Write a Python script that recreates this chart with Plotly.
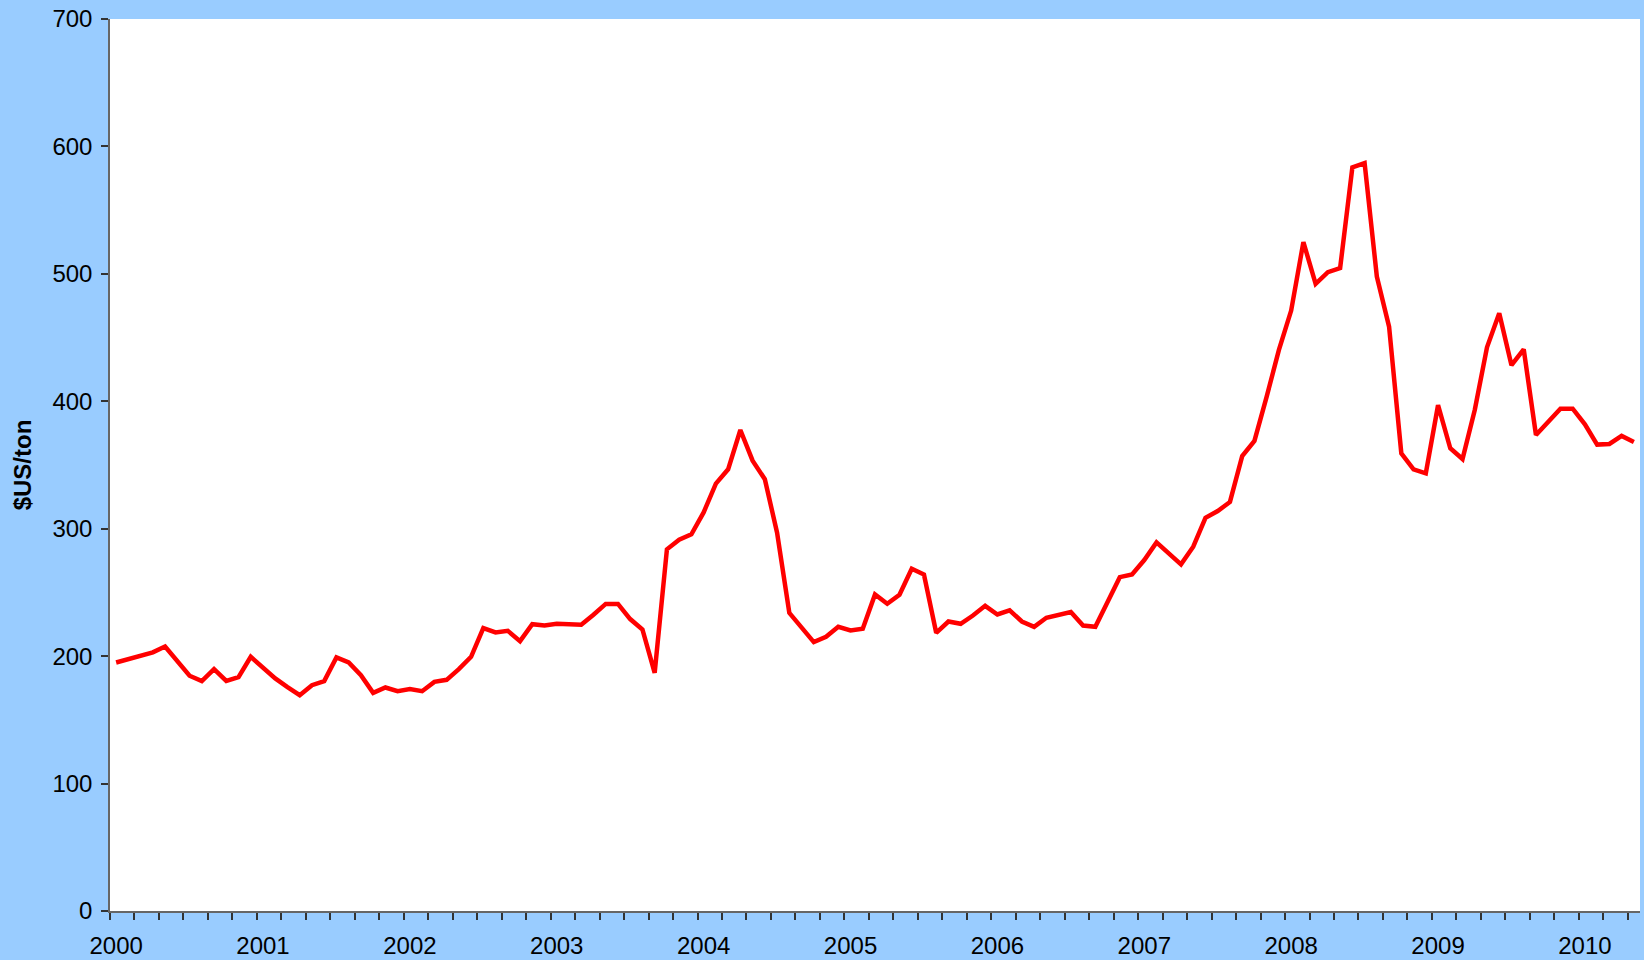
import plotly.graph_objects as go
import pandas as pd

# Monthly categories Jan 2000 - May 2010
months = pd.period_range("2000-01", periods=125, freq="M")

# Price in $US/ton
prices = [
    195.0, 197.6, 199.5, 203.0, 207.6, 196.6, 184.6, 180.4, 189.8, 180.6, 183.5, 199.5,   # 2000
    191.0, 182.5, 175.7, 169.4, 177.2, 180.4, 199.0, 195.0, 185.0, 171.2, 175.4, 172.5,   # 2001
    174.1, 172.5, 179.8, 181.4, 189.8, 199.5, 222.0, 218.6, 219.9, 211.8, 225.1, 224.1,   # 2002
    225.4, 224.6, 224.6, 232.5, 241.0, 241.0, 229.1, 220.9, 186.9, 283.8, 291.4, 295.6,   # 2003
    312.8, 335.4, 346.6, 377.5, 353.4, 338.8, 296.9, 234.0, 222.3, 211.0, 215.2, 223.0,   # 2004
    220.2, 221.5, 248.4, 241.1, 248.2, 268.6, 264.1, 218.3, 227.2, 225.4, 231.9, 239.5,   # 2005
    232.7, 235.9, 227.2, 223.0, 230.1, 232.2, 234.6, 224.0, 223.0, 242.4, 262.0, 264.1,   # 2006
    275.4, 289.3, 280.6, 272.0, 285.9, 308.6, 313.9, 321.0, 357.0, 368.9, 403.7, 440.3,   # 2007
    471.2, 524.9, 492.2, 501.3, 504.5, 583.5, 586.9, 497.9, 458.6, 359.2, 346.6, 343.5,   # 2008
    396.9, 363.1, 354.7, 393.2, 442.4, 469.1, 428.3, 440.8, 373.6, 384.0, 394.2, 394.2,   # 2009
    381.9, 366.0, 366.5, 372.8, 368.1,                                                    # 2010
]

years = ["2000", "2001", "2002", "2003", "2004", "2005",
         "2006", "2007", "2008", "2009", "2010"]
y_ticks = [0, 100, 200, 300, 400, 500, 600, 700]

x_idx = list(range(len(months)))
year_pos = [i for i, m in enumerate(months) if m.month == 1]
boundary_ticks = [k - 0.5 for k in range(0, len(months), 2)]

FONT = "Liberation Sans, Arial, sans-serif"
AXIS_COL = "#666666"

fig = go.Figure(
    go.Scatter(
        x=x_idx,
        y=prices,
        mode="lines",
        line=dict(color="#FF0000", width=4.5),
        hoverinfo="skip",
        showlegend=False,
    )
)

fig.update_layout(
    width=1644,
    height=960,
    paper_bgcolor="#99CCFF",
    plot_bgcolor="#FFFFFF",
    margin=dict(l=110, r=4, t=19, b=49),
    font=dict(family=FONT, size=24, color="#000000"),
    showlegend=False,
)

fig.update_xaxes(
    range=[-0.5, len(months) - 0.5],
    automargin=False,
    tickmode="array",
    tickvals=year_pos,
    ticktext=years,
    ticks="",
    ticklabelstandoff=12,
    showgrid=False,
    zeroline=False,
    showline=True,
    linecolor=AXIS_COL,
    linewidth=1.5,
    tickfont=dict(family=FONT, size=24, color="#000000"),
    minor=dict(
        tickmode="array",
        tickvals=boundary_ticks,
        ticks="outside",
        ticklen=7,
        tickwidth=1.5,
        tickcolor="#333333",
        showgrid=False,
    ),
)

fig.update_yaxes(
    range=[0, 700],
    automargin=False,
    tickmode="array",
    tickvals=y_ticks,
    ticks="outside",
    ticklen=7,
    tickwidth=1.5,
    tickcolor="#333333",
    ticklabelstandoff=4,
    showgrid=False,
    zeroline=False,
    showline=True,
    linecolor=AXIS_COL,
    linewidth=1.5,
    tickfont=dict(family=FONT, size=24, color="#000000"),
    title=dict(
        text="<b>$US/ton</b>",
        font=dict(family=FONT, size=24, color="#000000"),
        standoff=14,
    ),
)

fig.write_html(
    "out.html",
    config={"displayModeBar": False},
    post_script="document.body.style.margin='0';document.body.style.padding='0';",
)
